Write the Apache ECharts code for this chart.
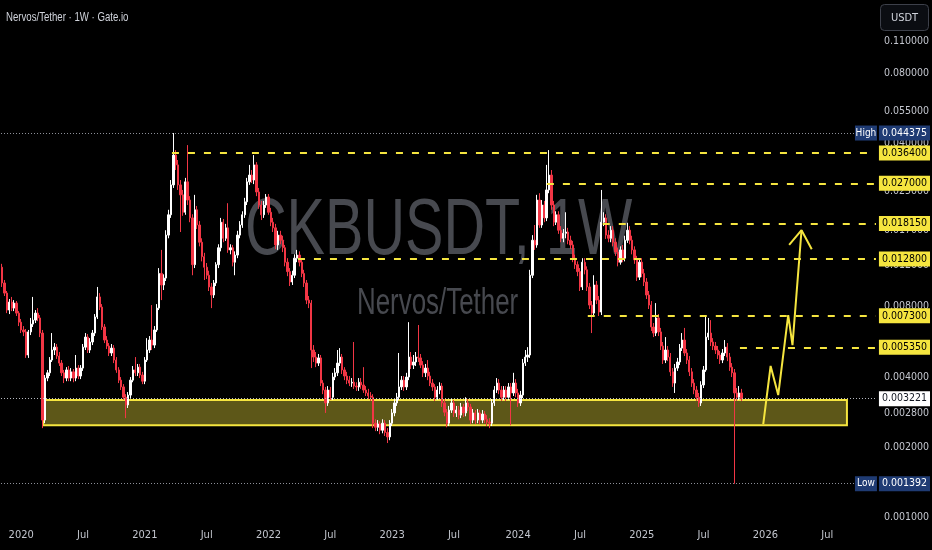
<!DOCTYPE html>
<html><head><meta charset="utf-8">
<script src="https://cdn.jsdelivr.net/npm/echarts@6/dist/echarts.min.js"></script>
<style>html,body{margin:0;padding:0;background:#000;}#c{width:932px;height:550px;}</style>
</head><body><div id="c"></div>
<script>
// ---------- DATA (weekly CKB/USDT) ----------
const firstWeek = '2019-11-04';          // Monday of first visible weekly candle
const totalWeeks = 368;                   // axis span incl. empty future weeks
const firstOpen = 0.0118;                 // open of first candle (later opens = previous close)
const closes = [
0.0101,0.00914,0.00773,0.00836,0.00788,0.00828,0.00750,0.00686,0.00635,0.00623,
0.00496,0.00623,0.00673,0.00700,0.00750,0.00715,0.00616,0.00261,0.00395,0.00416,
0.00472,0.00521,0.00536,0.00491,0.00458,0.00416,0.00395,0.00428,0.00395,0.00420,
0.00395,0.00436,0.00403,0.00436,0.00536,0.00592,0.00521,0.00564,0.00616,0.00722,
0.00880,0.00796,0.00654,0.00575,0.00542,0.00506,0.00531,0.00472,0.00428,0.00387,
0.00362,0.00327,0.00303,0.00334,0.00387,0.00428,0.00416,0.00440,0.00407,0.00383,
0.00472,0.00521,0.00575,0.00547,0.00635,0.00788,0.0111,0.00990,0.0106,0.0162,
0.0198,0.0266,0.0357,0.0324,0.0266,0.0241,0.0203,0.0274,0.0229,0.0192,
0.0121,0.0208,0.0179,0.0151,0.0131,0.0118,0.0109,0.00971,0.00897,0.0101,
0.0121,0.0143,0.0184,0.0157,0.0174,0.0140,0.0143,0.0124,0.0133,0.0162,
0.0179,0.0198,0.0225,0.0274,0.0293,0.0279,0.0324,0.0248,0.0218,0.0198,
0.0218,0.0236,0.0203,0.0184,0.0174,0.0147,0.0162,0.0154,0.0143,0.0124,
0.0113,0.0102,0.0109,0.0129,0.0133,0.0124,0.0111,0.0101,0.00853,0.00828,
0.00521,0.00486,0.00458,0.00482,0.00376,0.00351,0.00309,0.00351,0.00327,0.00399,
0.00416,0.00458,0.00486,0.00428,0.00403,0.00387,0.00376,0.00379,0.00365,0.00362,
0.00379,0.00369,0.00351,0.00341,0.00331,0.00327,0.00253,0.00243,0.00251,0.00236,
0.00253,0.00231,0.00221,0.00253,0.00280,0.00309,0.00327,0.00362,0.00387,0.00362,
0.00399,0.00486,0.00449,0.00463,0.00486,0.00482,0.00449,0.00416,0.00436,0.00403,
0.00376,0.00362,0.00327,0.00351,0.00365,0.00309,0.00282,0.00253,0.00288,0.00309,
0.00280,0.00288,0.00274,0.00297,0.00280,0.00309,0.00297,0.00261,0.00280,0.00261,
0.00280,0.00261,0.00277,0.00263,0.00256,0.00253,0.00309,0.00351,0.00376,0.00351,
0.00327,0.00351,0.00327,0.00362,0.00341,0.00376,0.00341,0.00309,0.00334,0.00458,
0.00486,0.00496,0.0109,0.0154,0.0147,0.0229,0.0179,0.0218,0.0192,0.0253,
0.0293,0.0218,0.0184,0.0198,0.0170,0.0157,0.0165,0.0167,0.0154,0.0147,
0.0129,0.0121,0.0113,0.00971,0.0124,0.0115,0.00971,0.00812,0.00750,0.00990,
0.00853,0.00758,0.0184,0.0192,0.0162,0.0157,0.0170,0.0151,0.0137,0.0124,
0.0140,0.0129,0.0154,0.0170,0.0154,0.0140,0.0127,0.0107,0.0124,0.0111,
0.0102,0.00897,0.00812,0.00654,0.00616,0.00715,0.00623,0.00542,0.00472,0.00521,
0.00486,0.00420,0.00376,0.00436,0.00463,0.00531,0.00575,0.00506,0.00472,0.00420,
0.00376,0.00351,0.00327,0.00309,0.00369,0.00428,0.00592,0.00616,0.00564,0.00542,
0.00521,0.00496,0.00472,0.00506,0.00536,0.00486,0.00440,0.00416,0.00341,0.00327,
0.00341,0.003221];
const highs = [
0.0122,0.0104,0.00933,0.00862,0.00880,0.00853,0.00845,0.00765,0.00708,0.00660,
0.00641,0.00635,0.00715,0.00880,0.00773,0.00788,0.00736,0.00635,0.00407,0.00428,
0.00486,0.00616,0.00558,0.00553,0.00511,0.00472,0.00428,0.00440,0.00445,0.00436,
0.00432,0.00496,0.00449,0.00449,0.00553,0.00616,0.00610,0.00586,0.00635,0.00743,
0.00971,0.00914,0.00820,0.00673,0.00598,0.00558,0.00553,0.00547,0.00486,0.00440,
0.00399,0.00372,0.00337,0.00344,0.00399,0.00445,0.00486,0.00454,0.00454,0.00420,
0.00486,0.00586,0.00598,0.00812,0.00660,0.00820,0.0117,0.0140,0.0110,0.0170,
0.0208,0.0279,0.044375,0.0375,0.0340,0.0279,0.0253,0.0285,0.0394,0.0238,
0.0199,0.0241,0.0216,0.0186,0.0157,0.0136,0.0123,0.0114,0.0101,0.0104,
0.0124,0.0148,0.0192,0.0190,0.0181,0.0222,0.0148,0.0147,0.0138,0.0169,
0.0186,0.0205,0.0234,0.0285,0.0324,0.0308,0.0357,0.0333,0.0258,0.0227,
0.0227,0.0243,0.0243,0.0212,0.0192,0.0181,0.0169,0.0169,0.0161,0.0147,
0.0129,0.0117,0.0114,0.0134,0.0140,0.0138,0.0129,0.0115,0.0104,0.00888,
0.00853,0.00547,0.00511,0.00501,0.00496,0.00387,0.00362,0.00365,0.00362,0.00416,
0.00436,0.00521,0.00531,0.00501,0.00440,0.00420,0.00403,0.00395,0.00564,0.00379,
0.00395,0.00395,0.00440,0.00365,0.00355,0.00344,0.00337,0.00263,0.00261,0.00258,
0.00263,0.00261,0.00241,0.00261,0.00291,0.00321,0.00341,0.00506,0.00403,0.00403,
0.00416,0.00686,0.00511,0.00496,0.00511,0.00667,0.00501,0.00467,0.00454,0.00472,
0.00420,0.00391,0.00372,0.00365,0.00379,0.00376,0.00321,0.00291,0.00300,0.00321,
0.00318,0.00300,0.00300,0.00309,0.00306,0.00327,0.00321,0.00306,0.00291,0.00288,
0.00291,0.00288,0.00288,0.00285,0.00274,0.00266,0.00321,0.00365,0.00395,0.00391,
0.00365,0.00365,0.00365,0.00376,0.00376,0.00416,0.00391,0.00355,0.00348,0.00477,
0.00521,0.00536,0.0115,0.0162,0.0179,0.0241,0.0245,0.0229,0.0227,0.0324,
0.0375,0.0308,0.0227,0.0205,0.0205,0.0177,0.0172,0.0203,0.0174,0.0161,
0.0153,0.0134,0.0125,0.0117,0.0129,0.0129,0.0119,0.0101,0.00845,0.0109,
0.0103,0.00888,0.0253,0.0203,0.0199,0.0170,0.0177,0.0177,0.0157,0.0143,
0.0145,0.0147,0.0161,0.0183,0.0177,0.0161,0.0145,0.0132,0.0129,0.0129,
0.0116,0.0106,0.00933,0.00845,0.00680,0.00828,0.00743,0.00648,0.00564,0.00592,
0.00542,0.00506,0.00436,0.00454,0.00482,0.00553,0.00616,0.00648,0.00526,0.00491,
0.00436,0.00391,0.00365,0.00341,0.00383,0.00445,0.00736,0.00715,0.00700,0.00586,
0.00564,0.00542,0.00516,0.00526,0.00575,0.00558,0.00506,0.00458,0.00432,0.00358,
0.00365,0.00355];
const lows = [
0.00971,0.00888,0.00750,0.00743,0.00765,0.00765,0.00729,0.00660,0.00616,0.00598,
0.00482,0.00482,0.00604,0.00654,0.00680,0.00693,0.00592,0.00241,0.00253,0.00383,
0.00403,0.00463,0.00496,0.00477,0.00445,0.00403,0.00376,0.00383,0.00383,0.00383,
0.00379,0.00383,0.00391,0.00391,0.00424,0.00521,0.00506,0.00506,0.00547,0.00598,
0.00708,0.00773,0.00635,0.00558,0.00526,0.00491,0.00491,0.00458,0.00416,0.00376,
0.00351,0.00318,0.00266,0.00294,0.00324,0.00379,0.00403,0.00403,0.00395,0.00372,
0.00372,0.00463,0.00506,0.00521,0.00531,0.00623,0.00773,0.00853,0.00942,0.0103,
0.0157,0.0192,0.0258,0.0308,0.0253,0.0167,0.0196,0.0198,0.0218,0.0184,
0.0109,0.0117,0.0172,0.0145,0.0125,0.0104,0.0105,0.00933,0.00788,0.00871,
0.00980,0.0117,0.0138,0.0151,0.0153,0.0136,0.0134,0.0119,0.0109,0.0129,
0.0157,0.0174,0.0192,0.0218,0.0266,0.0271,0.0268,0.0238,0.0210,0.0188,
0.0192,0.0212,0.0198,0.0177,0.0167,0.0141,0.0140,0.0148,0.0137,0.0119,
0.0108,0.00980,0.00990,0.0106,0.0124,0.0119,0.0107,0.00971,0.00820,0.00788,
0.00436,0.00463,0.00440,0.00445,0.00365,0.00337,0.00280,0.00300,0.00318,0.00318,
0.00387,0.00403,0.00445,0.00411,0.00387,0.00372,0.00365,0.00362,0.00355,0.00348,
0.00348,0.00355,0.00341,0.00331,0.00321,0.00315,0.00241,0.00234,0.00234,0.00227,
0.00229,0.00223,0.00208,0.00214,0.00246,0.00271,0.00300,0.00318,0.00351,0.00348,
0.00351,0.00387,0.00432,0.00432,0.00445,0.00463,0.00436,0.00399,0.00399,0.00387,
0.00365,0.00348,0.00315,0.00318,0.00337,0.00297,0.00271,0.00243,0.00246,0.00280,
0.00269,0.00269,0.00263,0.00266,0.00269,0.00271,0.00285,0.00251,0.00253,0.00251,
0.00253,0.00251,0.00253,0.00253,0.00246,0.00241,0.00246,0.00300,0.00341,0.00337,
0.00315,0.00318,0.00315,0.00318,0.00248,0.00331,0.00327,0.00297,0.00300,0.00324,
0.00445,0.00463,0.00482,0.0106,0.0140,0.0143,0.0174,0.0174,0.0184,0.0186,
0.0245,0.0208,0.0177,0.0179,0.0164,0.0151,0.0151,0.0157,0.0148,0.0141,
0.0124,0.0116,0.0108,0.00933,0.00942,0.0110,0.00933,0.00781,0.00616,0.00729,
0.00820,0.00729,0.00736,0.0177,0.0156,0.0151,0.0151,0.0145,0.0132,0.0119,
0.0121,0.0124,0.0125,0.0150,0.0148,0.0134,0.0122,0.0103,0.0104,0.0107,
0.00980,0.00862,0.00781,0.00629,0.00592,0.00598,0.00598,0.00521,0.00454,0.00458,
0.00467,0.00403,0.00362,0.00341,0.00424,0.00449,0.00516,0.00491,0.00454,0.00403,
0.00362,0.00337,0.00315,0.00297,0.00300,0.00358,0.00420,0.00575,0.00542,0.00521,
0.00501,0.00477,0.00454,0.00458,0.00491,0.00467,0.00424,0.00399,0.001392,0.00315,
0.00318,0.00315];
const yTicks = [0.11, 0.08, 0.055, 0.04, 0.025, 0.017, 0.012, 0.008, 0.004, 0.0028, 0.002, 0.001];
const levels = [0.0364, 0.027, 0.01815, 0.0128, 0.0073, 0.00535];
const levelLabels = ['0.036400','0.027000','0.018150','0.012800','0.007300','0.005350'];
const allHigh = 0.044375, allLow = 0.001392, lastPrice = 0.003221;
const zoneTop = 0.00318, zoneBottom = 0.00248;
const projection = [0.00251, 0.00445, 0.00334, 0.00736, 0.00547, 0.0170];  // drawn arrow path prices
const arrowHead = [0.0147, 0.0170, 0.0141];

// ---------- drawing config (positions in week-index units) ----------
const levelStart = [71.4, 229.1, 252.6, 124.4, 246.3, 310.3];
const projX = [320.1, 323.2, 326.4, 330.6, 332.4, 336.2];
const headX = [331.0, 336.2, 340.5];
const zoneX = [17.2, 355.3];
const XMIN = -0.5, XMAX = totalWeeks - 0.5;
const YMIN = 0.000954, YMAX = 0.165;
const YEL = '#f5e53f', NAVY = '#1f3b73', TXT = '#c3c6ce';
const NARROW = "'Liberation Sans Narrow','DejaVu Sans Condensed','Liberation Sans',sans-serif";
const FS = 10.5;

const DAY = 86400000;
const t0 = Date.parse(firstWeek + 'T00:00:00Z');
const weeks = [];
for (let i = 0; i < totalWeeks; i++) weeks.push(new Date(t0 + i * 7 * DAY).toISOString().slice(0, 10));
function labelFor(v) {
  const t = Date.parse(v + 'T00:00:00Z');
  for (let k = 0; k < 7; k++) {
    const d = new Date(t + k * DAY);
    if (d.getUTCDate() === 1 && (d.getUTCMonth() === 0 || d.getUTCMonth() === 6))
      return d.getUTCMonth() === 0 ? String(d.getUTCFullYear()) : 'Jul';
  }
  return null;
}
const candleData = closes.map((c, i) => [i === 0 ? firstOpen : closes[i - 1], c, lows[i], highs[i]]);

function boxLabel(text, bg, fg) {
  return {show: true, position: 'end', formatter: text, backgroundColor: bg, color: fg, opacity: 1,
    padding: [2, 3, 2, 3], fontSize: FS, fontFamily: NARROW, distance: 3};
}
const mlData = [];
levels.forEach((p, k) => {
  mlData.push([{coord: [levelStart[k], p], lineStyle: {color: YEL, type: [7, 9], width: 2}, label: boxLabel(levelLabels[k], YEL, '#000')},
               {coord: [XMAX, p]}]);
});
// High / Low dotted lines with navy value boxes; last price dotted line with white box
[[allHigh, '0.044375'], [allLow, '0.001392']].forEach(([p, t]) => {
  mlData.push([{coord: [XMIN, p], lineStyle: {color: '#8d9099', type: [1, 2], width: 1}, label: {show: false}}, {coord: [358.6, p]}]);
  mlData.push([{coord: [365, p], lineStyle: {color: NAVY, type: 'solid', width: 1}, label: boxLabel(t, NAVY, '#fff')}, {coord: [XMAX, p]}]);
});
mlData.push([{coord: [XMIN, lastPrice], lineStyle: {color: '#b6b9c1', type: [1, 2], width: 1}, label: boxLabel('0.003221', '#ffffff', '#131722')},
             {coord: [XMAX, lastPrice]}]);

const chart = echarts.init(document.getElementById('c'));
chart.setOption({
  backgroundColor: '#000',
  animation: false,
  grid: {left: 1, right: 56, top: 0, bottom: 28},
  graphic: [
    {type: 'text', x: 245, y: 232, scaleX: 0.72, z: 0,
     style: {text: 'CKBUSDT, 1W', fill: '#47494f', font: '80px "Liberation Sans"', align: 'left', verticalAlign: 'middle'}},
    {type: 'text', x: 357, y: 304, scaleX: 0.70, z: 0,
     style: {text: 'Nervos/Tether', fill: '#47494f', font: '37px "Liberation Sans"', align: 'left', verticalAlign: 'middle'}},
    {type: 'text', x: 6, y: 17, scaleX: 0.74, z: 10,
     style: {text: 'Nervos/Tether · 1W · Gate.io', fill: '#d1d4dc', font: '13px "Liberation Sans"', align: 'left', verticalAlign: 'middle'}},
    {type: 'rect', shape: {x: 880.5, y: 4.5, width: 48, height: 26, r: 4}, z: 10,
     style: {fill: '#0b0d12', stroke: '#3d404a', lineWidth: 1}},
    {type: 'text', x: 904.5, y: 18, z: 11,
     style: {text: 'USDT', fill: '#d1d4dc', font: '11px ' + NARROW, align: 'center', verticalAlign: 'middle'}}
  ],
  xAxis: [
    {type: 'category', data: weeks, boundaryGap: true,
     axisLine: {show: false}, axisTick: {show: false}, splitLine: {show: false},
     axisLabel: {interval: (i, v) => labelFor(v) !== null, formatter: v => labelFor(v) || '',
       color: TXT, fontSize: 11, fontFamily: NARROW, margin: 8}},
    {type: 'value', min: XMIN, max: XMAX, show: false}
  ],
  yAxis: [{type: 'log', position: 'right', min: YMIN, max: YMAX,
    axisLine: {show: false}, axisTick: {show: false}, splitLine: {show: false},
    axisLabel: {customValues: yTicks, formatter: v => Number(v).toFixed(6), color: TXT, fontSize: FS, fontFamily: NARROW, margin: 8}}],
  series: [
    {type: 'line', xAxisIndex: 1, data: [[zoneX[0], zoneTop]], symbol: 'none', clip: false, silent: true,
     markArea: {silent: true, data: [[{coord: [zoneX[0], zoneTop],
       itemStyle: {color: 'rgba(245,229,63,0.38)', borderColor: YEL, borderWidth: 2}}, {coord: [zoneX[1], zoneBottom]}]]}},
    {type: 'candlestick', xAxisIndex: 0, data: candleData, barWidth: 1.8, silent: true,
     itemStyle: {color: '#ffffff', color0: '#f23645', borderColor: '#ffffff', borderColor0: '#f23645', borderWidth: 1}},
    {type: 'line', xAxisIndex: 1, data: projX.map((x, i) => [x, projection[i]]), symbol: 'none', z: 6, clip: false, silent: true,
     lineStyle: {color: YEL, width: 2},
     markLine: {symbol: ['none', 'none'], silent: true, animation: false, data: mlData},
     markPoint: {silent: true, data: [
       {coord: [363.3, allHigh], symbol: 'rect', symbolSize: [22, 15], itemStyle: {color: NAVY},
        label: {show: true, position: 'inside', formatter: 'High', color: '#fff', fontSize: 10, fontFamily: NARROW}},
       {coord: [363.3, allLow], symbol: 'rect', symbolSize: [22, 15], itemStyle: {color: NAVY},
        label: {show: true, position: 'inside', formatter: 'Low', color: '#fff', fontSize: 10, fontFamily: NARROW}}]}},
    {type: 'line', xAxisIndex: 1, data: headX.map((x, i) => [x, arrowHead[i]]), symbol: 'none', z: 6, clip: false, silent: true,
     lineStyle: {color: YEL, width: 2}}
  ]
});
</script></body></html>
